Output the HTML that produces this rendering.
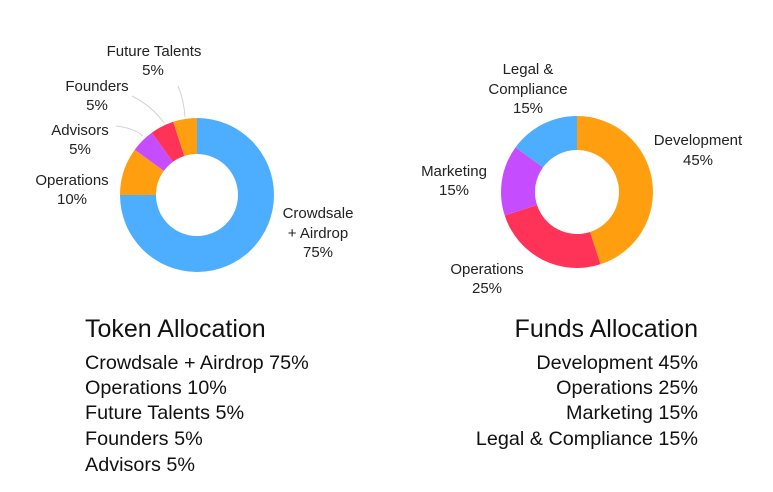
<!DOCTYPE html>
<html><head><meta charset="utf-8"><style>
html,body{margin:0;padding:0;background:#fff;}
body{width:773px;height:492px;overflow:hidden;position:relative;font-family:"Liberation Sans",sans-serif;color:#222;}
svg{position:absolute;left:0;top:0;}
.lab{font-size:15px;fill:#222;text-anchor:middle;}
.title{font-size:25px;fill:#111;}
.item{font-size:19.8px;fill:#111;}
</style></head><body>
<svg id="chart" width="773" height="492">
  <g id="left"></g>
  <g id="right"></g>
  <g fill="none" stroke="#d4d4d4" stroke-width="1">
    <path d="M185 117 Q184 100 178 86"/>
    <path d="M164 123 Q152 106 132 96"/>
    <path d="M143 136 Q134 128 116 126"/>
  </g>
  <g>
    <text class="lab" x="154" y="56">Future Talents</text><text class="lab" x="153" y="75">5%</text>
    <text class="lab" x="97" y="91">Founders</text><text class="lab" x="97" y="110">5%</text>
    <text class="lab" x="80" y="135">Advisors</text><text class="lab" x="80" y="154">5%</text>
    <text class="lab" x="72" y="185">Operations</text><text class="lab" x="72" y="204">10%</text>
    <text class="lab" x="318" y="218">Crowdsale</text><text class="lab" x="318" y="238">+ Airdrop</text><text class="lab" x="318" y="257">75%</text>
  </g>
  <g>
    <text class="lab" x="528" y="74">Legal &amp;</text><text class="lab" x="528" y="94">Compliance</text><text class="lab" x="528" y="113">15%</text>
    <text class="lab" x="698" y="145">Development</text><text class="lab" x="698" y="165">45%</text>
    <text class="lab" x="454" y="176">Marketing</text><text class="lab" x="454" y="195">15%</text>
    <text class="lab" x="487" y="274">Operations</text><text class="lab" x="487" y="293">25%</text>
  </g>
  <g>
    <text class="title" x="85" y="337">Token Allocation</text>
    <text class="item" x="85" y="369">Crowdsale + Airdrop 75%</text>
    <text class="item" x="85" y="394">Operations 10%</text>
    <text class="item" x="85" y="419">Future Talents 5%</text>
    <text class="item" x="85" y="445">Founders 5%</text>
    <text class="item" x="85" y="471">Advisors 5%</text>
  </g>
  <g text-anchor="end">
    <text class="title" x="698" y="337">Funds Allocation</text>
    <text class="item" x="698" y="369">Development 45%</text>
    <text class="item" x="698" y="394">Operations 25%</text>
    <text class="item" x="698" y="419">Marketing 15%</text>
    <text class="item" x="698" y="445">Legal &amp; Compliance 15%</text>
  </g>
</svg>
<script>
const tokenCategories = ["Crowdsale + Airdrop","Operations","Advisors","Founders","Future Talents"];
const tokenValues = [75,10,5,5,5];
const tokenColors = ["#4dadff","#ff9f0f","#c64dff","#ff3358","#ff9f0f"];
const fundsCategories = ["Development","Operations","Marketing","Legal & Compliance"];
const fundsValues = [45,25,15,15];
const fundsColors = ["#ff9f0f","#ff3358","#c64dff","#4dadff"];

function donut(gid, cats, vals, cols, cx, cy, ro, ri){
  const g = document.getElementById(gid);
  const total = vals.reduce((a,b)=>a+b,0);
  let a0 = -Math.PI/2;
  vals.forEach((v,i)=>{
    const a1 = a0 + v/total*2*Math.PI;
    const large = (a1-a0)>Math.PI?1:0;
    const p = (r,a)=>[cx+r*Math.cos(a), cy+r*Math.sin(a)];
    const [x1,y1]=p(ro,a0),[x2,y2]=p(ro,a1),[x3,y3]=p(ri,a1),[x4,y4]=p(ri,a0);
    const path = document.createElementNS("http://www.w3.org/2000/svg","path");
    path.setAttribute("d",`M${x1} ${y1}A${ro} ${ro} 0 ${large} 1 ${x2} ${y2}L${x3} ${y3}A${ri} ${ri} 0 ${large} 0 ${x4} ${y4}Z`);
    path.setAttribute("fill",cols[i]);
    
    
    g.appendChild(path);
    a0 = a1;
  });
}
donut("left", tokenCategories, tokenValues, tokenColors, 197, 195, 77, 41);
donut("right", fundsCategories, fundsValues, fundsColors, 577, 192, 76, 42);
</script>
</body></html>
